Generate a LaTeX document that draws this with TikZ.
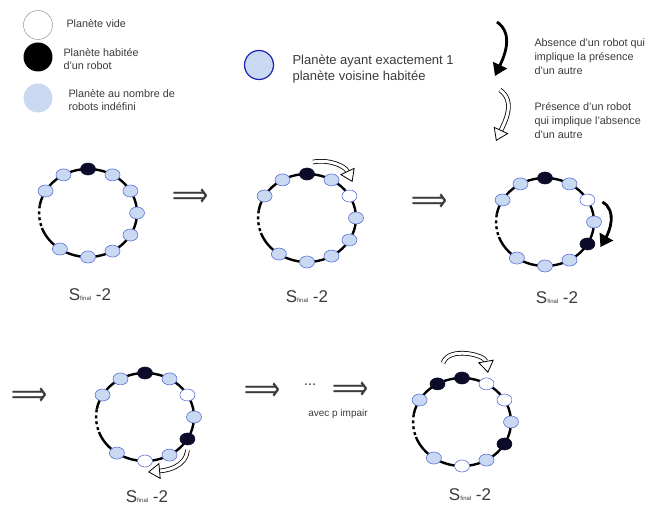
\documentclass[tikz,border=0pt]{standalone}
\usepackage{fontspec}
\setmainfont{Liberation Sans}
\newfontfamily\arrowfont{DejaVu Sans}
\usepackage{tikz}
\usetikzlibrary{arrows.meta,shapes.geometric}
\definecolor{PlanetBlue}{HTML}{C9D9F2}
\definecolor{PlanetEdge}{HTML}{5B6FD6}
\definecolor{PlanetDark}{HTML}{0C0C2A}
\definecolor{RingBlue}{HTML}{1E22B4}
\definecolor{TextGray}{HTML}{3A3A3A}

\begin{document}
\begin{tikzpicture}[
    x=1pt, y=1pt,
    every node/.style={text=TextGray},
    planet/.style={
        ellipse,
        draw=PlanetEdge,
        line width=0.6pt,
        minimum width=15pt,
        minimum height=12pt,
        inner sep=0pt
    },
    unk/.style={planet, fill=PlanetBlue},
    rob/.style={planet, fill=PlanetDark, draw=PlanetDark},
    vide/.style={planet, fill=white},
    ring/.style={line width=2.4pt},
    gap/.style={line width=2.4pt, dash pattern=on 3pt off 3pt},
    legend/.style={circle, minimum size=29pt, inner sep=0pt},
    info/.style={align=left, anchor=west, font=\fontsize{10.8}{13.5}\selectfont},
    hollow/.style={
        double=white,
        double distance=3pt,
        line width=0.8pt,
        -{Triangle[open, length=12pt, width=16pt, fill=white]}
    },
    heavy/.style={line width=2.8pt, -{Triangle[length=12pt, width=15pt]}},
    impl/.style={font=\arrowfont\fontsize{21}{21}\selectfont, inner sep=0pt, xscale=1.2, yscale=1.6},
    stagelabel/.style={font=\fontsize{17}{17}\selectfont}
]
\useasboundingbox (0,0) rectangle (646,508);

% legende
\node[legend, draw=gray, fill=white] (lvide) at (38,483) {};
\node[info] at (63,484) {Planète vide};
\node[legend, fill=black] (lrob) at (38,451) {};
\node[info] at (60,449) {Planète habitée\\d'un robot};
\node[legend, fill=PlanetBlue] (lunk) at (38,410) {};
\node[info] at (65,408) {Planète au nombre de\\robots indéfini};
\node[legend, fill=PlanetBlue, draw=RingBlue, line width=1.2pt] (lvois) at (259,443) {};
\node[info, font=\fontsize{13}{16.5}\selectfont] at (289,439) {Planète ayant exactement 1\\planète voisine habitée};

\coordinate (abs1) at (497,486);
\coordinate (abs2) at (495,432);
\draw[heavy] (abs1) to[out=-35, in=65] (abs2);
\node[info, font=\fontsize{10.8}{14}\selectfont] at (531,451) {Absence d'un robot qui\\implique la présence\\d'un autre};
\coordinate (pres1) at (500,418);
\coordinate (pres2) at (496,367);
\draw[hollow] (pres1) to[out=-35, in=65] (pres2);
\node[info, font=\fontsize{10.8}{14}\selectfont] at (531,387) {Présence d'un robot\\qui implique l'absence\\d'un autre};

% anneau 1
\draw[ring] (88,295) ++(170:49 and 44) arc[start angle=170, end angle=-160, x radius=49, y radius=44];
\draw[gap] (88,295) ++(170:49 and 44) arc[start angle=170, end angle=200, x radius=49, y radius=44];
\foreach \a/\s [count=\i] in {120/unk,90/rob,60/unk,30/unk,0/unk,-30/unk,-60/unk,-90/unk,-125/unk,150/unk}
    \node[\s] (a\i) at ([shift={(\a:49 and 44)}]88,295) {};
\node[stagelabel] (sa) at (90,213) {S{\fontsize{6}{6}\selectfont final} -2};

\node[impl] (i1) at (191,310) {⟹};

% anneau 2
\draw[ring] (307,290) ++(170:49 and 44) arc[start angle=170, end angle=-160, x radius=49, y radius=44];
\draw[gap] (307,290) ++(170:49 and 44) arc[start angle=170, end angle=200, x radius=49, y radius=44];
\foreach \a/\s [count=\i] in {120/unk,90/rob,60/unk,30/vide,0/unk,-30/unk,-60/unk,-90/unk,-125/unk,150/unk}
    \node[\s] (b\i) at ([shift={(\a:49 and 44)}]307,290) {};
\node[stagelabel] (sb) at (307,211) {S{\fontsize{6}{6}\selectfont final} -2};
\draw[hollow] ([shift={(6,12)}]b2.center) to[out=10, in=115] ([shift={(3,14)}]b4.center);

\node[impl] (i2) at (430,305) {⟹};

% anneau 3
\draw[ring] (545,286) ++(170:49 and 44) arc[start angle=170, end angle=-160, x radius=49, y radius=44];
\draw[gap] (545,286) ++(170:49 and 44) arc[start angle=170, end angle=200, x radius=49, y radius=44];
\foreach \a/\s [count=\i] in {120/unk,90/rob,60/unk,30/vide,0/unk,-30/rob,-60/unk,-90/unk,-125/unk,150/unk}
    \node[\s] (c\i) at ([shift={(\a:49 and 44)}]545,286) {};
\node[stagelabel] (sc) at (557,210) {S{\fontsize{6}{6}\selectfont final} -2};
\draw[heavy] ([shift={(15,-2)}]c4.center) to[out=-30, in=60] ([shift={(13,-3)}]c6.center);

\node[impl] (i3) at (30,111) {⟹};

% anneau 4
\draw[ring] (145,91) ++(170:49 and 44) arc[start angle=170, end angle=-160, x radius=49, y radius=44];
\draw[gap] (145,91) ++(170:49 and 44) arc[start angle=170, end angle=200, x radius=49, y radius=44];
\foreach \a/\s [count=\i] in {120/unk,90/rob,60/unk,30/vide,0/unk,-30/rob,-60/unk,-90/vide,-125/unk,150/unk}
    \node[\s] (d\i) at ([shift={(\a:49 and 44)}]145,91) {};
\node[stagelabel] (sd) at (147,11) {S{\fontsize{6}{6}\selectfont final} -2};
\draw[hollow] ([shift={(0,-11)}]d6.center) to[out=-95, in=5] ([shift={(3,-11)}]d8.center);

\node[impl] (i4) at (263,116) {⟹};
\node[font=\fontsize{15}{15}\selectfont, inner sep=0pt] (dots) at (310,123) {...};
\node[impl] (i5) at (351,117) {⟹};
\node[font=\fontsize{10}{11}\selectfont, inner sep=0pt] (pimp) at (338,94) {avec p impair};

% anneau 5
\draw[ring] (462,86) ++(170:49 and 44) arc[start angle=170, end angle=-160, x radius=49, y radius=44];
\draw[gap] (462,86) ++(170:49 and 44) arc[start angle=170, end angle=200, x radius=49, y radius=44];
\foreach \a/\s [count=\i] in {120/rob,90/rob,60/vide,30/vide,0/unk,-30/rob,-60/unk,-90/vide,-125/unk,150/unk}
    \node[\s] (e\i) at ([shift={(\a:49 and 44)}]462,86) {};
\node[stagelabel] (se) at (470,13) {S{\fontsize{6}{6}\selectfont final} -2};
\draw[hollow] ([shift={(5.5,21)}]e1.center) to[out=70, in=100] ([shift={(1.5,11)}]e3.center);

\end{tikzpicture}
\end{document}
